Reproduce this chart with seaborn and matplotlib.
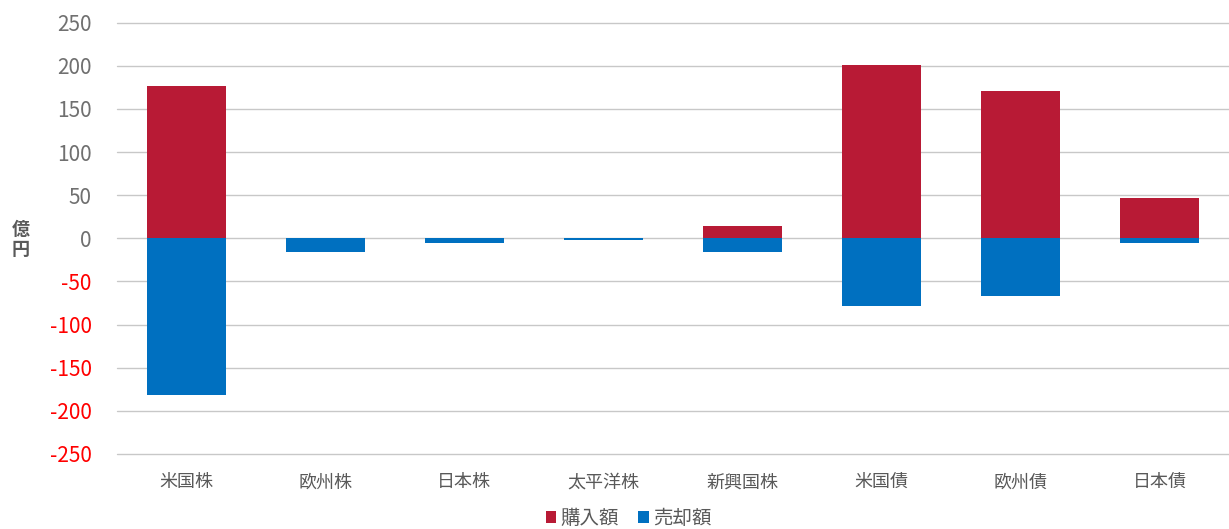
import matplotlib
matplotlib.use("Agg")
import matplotlib.pyplot as plt
import seaborn as sns
import pandas as pd

categories = ["米国株", "欧州株", "日本株", "太平洋株", "新興国株", "米国債", "欧州債", "日本債"]
buy_values = [177, 0, 0, 0, 14, 201, 171, 47]
sell_values = [-182, -16, -6, -2, -16, -78, -67, -6]
series_names = ["購入額", "売却額"]
yticks = [250, 200, 150, 100, 50, 0, -50, -100, -150, -200, -250]

sns.set_style("white")
plt.rcParams["font.family"] = ["Noto Sans CJK JP", "DejaVu Sans"]
plt.rcParams["axes.unicode_minus"] = False

df = pd.DataFrame({
    "category": categories * 2,
    "value": buy_values + sell_values,
    "series": [series_names[0]] * len(categories) + [series_names[1]] * len(categories),
})

fig = plt.figure(figsize=(12.29, 5.29), dpi=100)
ax = fig.add_axes([0.095, 0.142, 0.905, 0.815])

sns.barplot(data=df, x="category", y="value", hue="series", dodge=False,
            palette=["#B81A35", "#0070C0"], saturation=1, width=0.57, ax=ax,
            edgecolor="none", zorder=3)

ax.set_ylim(-250, 250)
ax.set_yticks(yticks)
ax.yaxis.grid(True, color="#c8c8c8", linewidth=1, zorder=0)
for gl in ax.get_ygridlines():
    gl.set_clip_on(False)
ax.xaxis.grid(False)
for s in ax.spines.values():
    s.set_visible(False)
ax.tick_params(axis="y", length=0, pad=18, labelsize=15)
ax.tick_params(axis="x", length=0, pad=14, labelsize=13, colors="#595959")
for lab, v in zip(ax.get_yticklabels(), yticks):
    lab.set_color("#ff0000" if v < 0 else "#707070")
ax.set_xlabel("")
ax.set_ylabel("")
fig.text(0.017, 0.547, "億\n円", fontsize=13, color="#595959", fontweight="bold",
         ha="center", va="center", linespacing=1.1)

ax.legend(loc="center", bbox_to_anchor=(0.46, -0.149), ncol=2, frameon=False,
          fontsize=14, handlelength=0.55, handleheight=0.55, handletextpad=0.2,
          columnspacing=1.0, labelcolor="#595959", borderpad=0.1)

fig.savefig("out.png", dpi=100)
